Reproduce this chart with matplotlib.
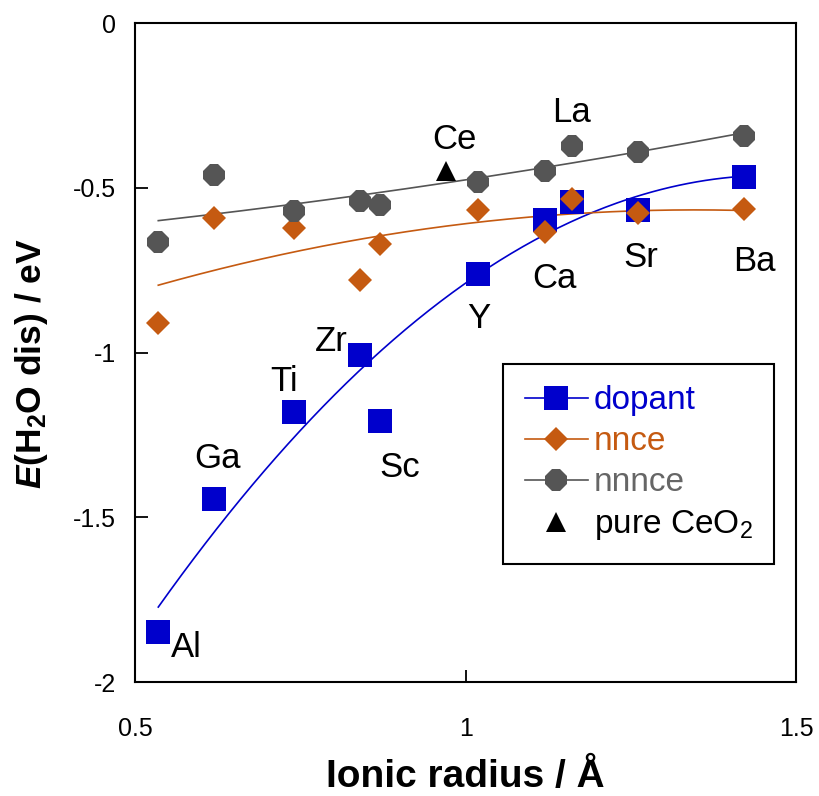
import numpy as np
from matplotlib import pyplot as plt
from matplotlib.ticker import FormatStrFormatter, MultipleLocator

plt.rcParams['font.family'] = ['Liberation Sans', 'DejaVu Sans']
plt.rcParams['mathtext.fontset'] = 'custom'
plt.rcParams['mathtext.it'] = 'Liberation Sans:italic:bold'
plt.rcParams['mathtext.rm'] = 'Liberation Sans'
plt.rcParams['axes.unicode_minus'] = False

# dopant cations and their ionic radii (Å)
elements = ['Al', 'Ga', 'Ti', 'Zr', 'Sc', 'Y', 'Ca', 'La', 'Sr', 'Ba']
radius = [0.535, 0.62, 0.74, 0.84, 0.87, 1.019, 1.12, 1.16, 1.26, 1.42]

# water dissociation energy (eV) at the three site types
e_dopant = [-1.847, -1.445, -1.179, -1.007, -1.206, -0.761, -0.597, -0.544, -0.567, -0.466]
e_nnce = [-0.911, -0.592, -0.622, -0.779, -0.670, -0.567, -0.633, -0.533, -0.577, -0.564]
e_nnnce = [-0.665, -0.460, -0.569, -0.539, -0.551, -0.481, -0.450, -0.372, -0.390, -0.344]

# undoped ceria
ce_radius = 0.97
e_ceo2 = -0.450

# where the element names sit, in points from the dopant marker
label_offsets = [(20, -11), (2, 29), (-7, 22), (-21, 10), (14, -34),
                 (0, -32), (7, -42), (0, 65), (2, -34), (8, -61)]

BLUE = '#0000cc'
ORANGE = '#c55a11'
GRAY = '#555555'

fig = plt.figure(figsize=(8.19, 7.96), dpi=100)
ax = fig.add_axes([0.165, 0.143, 0.8075, 0.828])

x = np.array(radius)
xs = np.linspace(x.min(), x.max(), 200)
series = [
    (e_dopant, BLUE, 's', 17, 'dopant'),
    (e_nnce, ORANGE, 'D', 12, 'nnce'),
    (e_nnnce, GRAY, '8', 16.5, 'nnnce'),
]
handles = []
for ys, col, mk, ms, name in series:
    coef = np.polyfit(x, ys, 2)  # 2nd order trend line
    ax.plot(xs, np.polyval(coef, xs), color=col, lw=1.2, zorder=2)
    ax.plot(x, ys, ls='none', marker=mk, ms=ms, color=col, mew=0, zorder=3)
    h, = ax.plot([], [], color=col, lw=1.2, marker=mk, ms=ms, mew=0, label=name)
    handles.append(h)

h, = ax.plot([ce_radius], [e_ceo2], ls='none', marker='^', ms=15, color='black',
             mew=0, zorder=4, label=r'pure CeO$\mathregular{_2}$')
handles.append(h)

for el, xi, yi, off in zip(elements, radius, e_dopant, label_offsets):
    ax.annotate(el, (xi, yi), xytext=off, textcoords='offset points',
                ha='center', va='center', fontsize=25)
ax.annotate('Ce', (ce_radius, e_ceo2), xytext=(6, 23), textcoords='offset points',
            ha='center', va='center', fontsize=25)

ax.set_xlim(0.5, 1.5)
ax.set_ylim(-2, 0)
ax.xaxis.set_major_locator(MultipleLocator(0.5))
ax.yaxis.set_major_locator(MultipleLocator(0.5))
ax.xaxis.set_major_formatter(FormatStrFormatter('%g'))
ax.yaxis.set_major_formatter(FormatStrFormatter('%g'))
ax.tick_params(direction='in', length=9, width=1.3, labelsize=18)
ax.tick_params(axis='x', pad=25)
ax.tick_params(axis='y', pad=14)
for sp in ax.spines.values():
    sp.set_linewidth(1.5)

ax.set_xlabel('Ionic radius / Å', fontsize=28, fontweight='bold', labelpad=13)
ax.set_ylabel(r'$E$(H$\mathregular{_2}$O dis) / eV', fontsize=25.5, fontweight='bold')
ax.yaxis.set_label_coords(-0.128, 0.484)

leg = ax.legend(handles=handles, loc='upper left', bbox_to_anchor=(0.556, 0.483),
                borderaxespad=0, fontsize=24, numpoints=1, handlelength=1.9,
                handletextpad=0.18, labelspacing=0.3, borderpad=0.65,
                fancybox=False, framealpha=1, edgecolor='black')
leg.get_frame().set_linewidth(1.5)
for t, c in zip(leg.get_texts(), [BLUE, ORANGE, '#666666', 'black']):
    t.set_color(c)

fig.savefig('out.png', dpi=100)
